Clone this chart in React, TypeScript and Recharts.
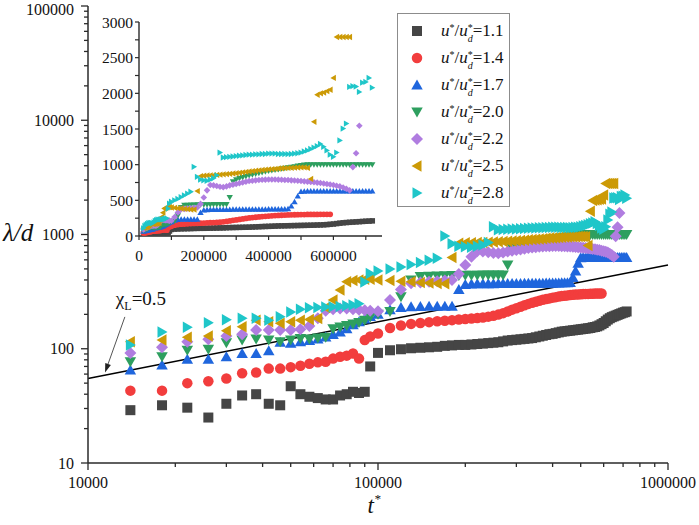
import React from "react";
import { ScatterChart, Scatter, XAxis, YAxis, ReferenceLine, Legend } from "recharts";

// sampling times t* shared by every run
const tValues = [
  14000, 18000, 22000, 26000, 30000, 34000, 38000, 42000, 46000, 50000,
  54000, 58000, 62000, 66000, 70000, 74000, 78000, 82000, 86000, 90000, 94000,
  100000, 110000, 120000, 130000, 140000, 150000, 160000, 170000, 180000, 190000,
  200000, 210000, 220000, 230000, 240000, 250000, 260000, 270000, 280000, 290000,
  300000, 310000, 320000, 330000, 340000, 350000, 360000, 370000, 380000, 390000,
  400000, 410000, 420000, 430000, 440000, 450000, 460000, 470000, 480000, 490000,
  500000, 510000, 520000, 530000, 540000, 550000, 560000, 570000, 580000, 590000,
  600000, 610000, 620000, 630000, 640000, 650000, 660000, 670000, 680000, 690000,
  700000, 710000, 720000,
];

// lambda/d for each u*/u*d run (null = no sample)
const lambda11 = [
  29, 32, 30.5, 25, 33, 39, 40, 33, 32, 47,
  40, 38, 37, 36, 36, 39, 40, 42, 41, 42, 70,
  92, 97, 99, 101, 102, 103, 104, 106, 107, 108,
  108, 109, 110, 111, 112, 113, 114, 116, 118, 119,
  120, 121, 122, 123, 124, 126, 128, 130, 132, 134,
  135, 137, 139, 141, 142, 143, 144, 145, 146, 147,
  148, 149, 150, 151, 152, 154, 155, 157, 160, 164,
  168, 174, 180, 185, 189, 192, 195, 198, 201, 204,
  207, 209, 212,
];
const lambda14 = [
  43, 43, 50, 52, 55, 61, 62, 67, 67, 69,
  71, 74, 76, 77, 82, 85, 87, 91, 82, 119, 128,
  136, 152, 160, 165, 168, 171, 174, 176, 178, 180,
  182, 184, 186, 188, 191, 194, 199, 205, 212, 220,
  226, 233, 240, 247, 253, 258, 263, 268, 272, 276,
  280, 283, 286, 289, 291, 293, 295, 297, 298, 299,
  300, 301, 302, 302, 303, 303, 304, 304, 304, 304,
  null, null, null, null, null, null, null, null, null, null,
  null, null, null,
];
const lambda17 = [
  65, 72, 81, 81, 85, 91, 91, 96, 114, 112,
  115, 118, 122, 127, 133, 140, 150, 162, 172, 182, 192,
  200, 220, 230, 233, 234, 235, 235, 236, 236, 330,
  365, 368, 370, 370, 371, 371, 372, 372, 372, 373,
  373, 373, 374, 374, 374, 375, 375, 375, 376, 376,
  377, 377, 377, 378, 378, 379, 380, 420, 480, 560,
  625, 628, 630, 630, 630, 630, 630, 630, 630, 630,
  630, 630, 630, 630, 630, 630, 630, 630, 630, 630,
  630, 630, 630,
];
const lambda20 = [
  77, 85, 97, 99, 113, 119, 122, 119, 115, 119,
  123, 122, 124, 126, 150, 155, 160, 165, 170, 178, 190,
  200, 212, 285, 400, 430, 432, 434, 436, 437, 438,
  439, 440, 440, 441, 441, 442, 442, 443, 540, 760,
  790, 805, 820, 835, 848, 860, 870, 880, 890, 900,
  910, 918, 926, 934, 942, 950, 958, 965, 972, 980,
  990, 995, 998, 1000, 1000, 1000, 1000, 1000, 1000, 1000,
  1000, 1000, 1000, 1000, 1000, 1000, 1000, 1000, 1000, 1000,
  1000, 1000, 1000,
];
const lambda22 = [
  92, 103, 115, 121, 129, 134, 146, 146, 146, 146,
  148, 158, 185, 215, 222, 225, 225, 222, 220, 217, 215,
  213, 267, 330, 375, 380, 385, 390, 395, 400, 450,
  540, 640, 715, 710, 700, 690, 685, 695, 710, 720,
  730, 740, 750, 760, 770, 775, 780, 785, 788, 790,
  792, 792, 792, 790, 788, 786, 784, 780, 777, 774,
  770, 766, 762, 758, 753, 748, 742, 736, 730, 722,
  714, 705, 695, 680, 662, 640, 966, 1160, 1545, null,
  null, null, null,
];
const lambda25 = [
  115, 119, 126, 129, 144, 156, 178, 172, 167, 172,
  178, 180, 184, 230, 267, 327, 385, 395, 400, 405, 405,
  400, 395, 390, 385, 380, 376, 372, 370, 630, 840,
  845, 848, 850, 853, 856, 860, 864, 868, 872, 876,
  880, 886, 892, 898, 904, 910, 915, 920, 925, 930,
  934, 938, 942, 946, 950, 952, 954, 956, 958, 960,
  962, 962, 955, 800, 1600, 1980, 2000, 2010, 2030, 2050,
  2216, 2790, 2790, 2790, 2790, 2790, null, null, null, null,
  null, null, null,
];
const lambda28 = [
  108, 140, 154, 169, 179, 185, 185, 178, 191, 210,
  222, 228, 230, 232, 233, 234, 238, 242, 248, 384, 455,
  480, 500, 520, 545, 570, 595, 620, 970, 830, 790,
  780, 775, 790, 810, 850, 1170, 1100, 1105, 1110, 1115,
  1120, 1125, 1130, 1135, 1140, 1140, 1145, 1145, 1150, 1150,
  1155, 1155, 1155, 1150, 1150, 1150, 1148, 1150, 1155, 1160,
  1170, 1185, 1200, 1220, 1240, 1260, 1290, 1250, 1200, 1140,
  1110, 1170, 1340, 1506, 1576, 2090, 2100, 2095, 2020, 2150,
  2160, 2216, 2080,
];

const ratios = ["1.1", "1.4", "1.7", "2.0", "2.2", "2.5", "2.8"];
const seriesValues = [lambda11, lambda14, lambda17, lambda20, lambda22, lambda25, lambda28];
const seriesColors = ["#454545", "#f23d3d", "#1f66dd", "#2e9f5f", "#b07de0", "#cc9a06", "#1fc6c9"];
const seriesShapes = ["square", "circle", "up", "down", "diamond", "left", "right"];

// chi_L = 0.5 guide line and its pointer
const fitT = [10000, 1000000];
const fitLambda = [55, 540];
const arrowT = [13400, 11450];
const arrowLambda = [190, 62];

// axis ticks
const mainYDecades = [10, 100, 1000, 10000, 100000];
const mainXDecades = [10000, 100000, 1000000];
const minorSteps = [1, 2, 3, 4, 5, 6, 7, 8, 9];
const insetXTicks = [0, 100000, 200000, 300000, 400000, 500000, 600000, 700000];
const insetXLabels = [0, 200000, 400000, 600000];
const insetYTicks = [0, 250, 500, 750, 1000, 1250, 1500, 1750, 2000, 2250, 2500, 2750, 3000];
const insetYLabels = [0, 500, 1000, 1500, 2000, 2500, 3000];

const FONT = "'Liberation Serif', 'DejaVu Serif', serif";
const AXIS = "#2a2a2a";

const withMinors = (decades: number[]) =>
  decades.flatMap((d, i) => (i === decades.length - 1 ? [d] : minorSteps.map((m) => d * m)));
const mainYTicks = withMinors(mainYDecades);
const mainXTicks = withMinors(mainXDecades);

const points = (vals: (number | null)[]) =>
  tValues.map((t, i) => ({ t, v: vals[i] })).filter((p) => p.v != null);
const seriesData = seriesValues.map(points);

const isDecade = (v: number) => Math.abs(Math.log10(v) - Math.round(Math.log10(v))) < 1e-6;

function Marker({ kind, cx, cy, size, color }: { kind: string; cx: number; cy: number; size: number; color: string }) {
  const h = size / 2;
  if (cx == null || cy == null) return null;
  switch (kind) {
    case "square":
      return <rect x={cx - h} y={cy - h} width={size} height={size} fill={color} />;
    case "circle":
      return <circle cx={cx} cy={cy} r={h * 1.05} fill={color} />;
    case "up":
      return <polygon points={`${cx},${cy - h * 1.1} ${cx + h * 1.15},${cy + h * 0.9} ${cx - h * 1.15},${cy + h * 0.9}`} fill={color} />;
    case "down":
      return <polygon points={`${cx},${cy + h * 1.1} ${cx + h * 1.15},${cy - h * 0.9} ${cx - h * 1.15},${cy - h * 0.9}`} fill={color} />;
    case "diamond":
      return <polygon points={`${cx},${cy - h * 1.2} ${cx + h * 1.2},${cy} ${cx},${cy + h * 1.2} ${cx - h * 1.2},${cy}`} fill={color} />;
    case "left":
      return <polygon points={`${cx - h * 1.1},${cy} ${cx + h * 0.9},${cy - h * 1.15} ${cx + h * 0.9},${cy + h * 1.15}`} fill={color} />;
    default:
      return <polygon points={`${cx + h * 1.1},${cy} ${cx - h * 0.9},${cy - h * 1.15} ${cx - h * 0.9},${cy + h * 1.15}`} fill={color} />;
  }
}

const textStyle = (size: number) => ({ fontSize: size, fontFamily: FONT, fill: "#111" });

// ticks: x/y arrive at the axis line because tickSize and tickMargin are 0
function LogTick(props: any) {
  const { x, y, payload, side } = props;
  const v = payload.value;
  const major = isDecade(v);
  const len = major ? 7 : 4;
  if (side === "left")
    return (
      <g>
        <line x1={x} x2={x - len} y1={y} y2={y} stroke={AXIS} strokeWidth={1.3} />
        {major && (
          <text x={x - 14} y={Math.max(y + 5.5, 14.5)} textAnchor="end" style={textStyle(16)}>
            {v}
          </text>
        )}
      </g>
    );
  if (side === "bottom")
    return (
      <g>
        <line x1={x} x2={x} y1={y} y2={y + len} stroke={AXIS} strokeWidth={1.3} />
        {major && <text x={x} y={y + 25} textAnchor="middle" style={textStyle(16)}>{v}</text>}
      </g>
    );
  if (side === "right") return <line x1={x} x2={x - len} y1={y} y2={y} stroke={AXIS} strokeWidth={1.3} />;
  return <line x1={x} x2={x} y1={y} y2={y + len} stroke={AXIS} strokeWidth={1.3} />;
}

function InsetTick(props: any) {
  const { x, y, payload, side } = props;
  const v = payload.value;
  if (side === "left")
    return (
      <g>
        <line x1={x} x2={x - 4} y1={y} y2={y} stroke={AXIS} strokeWidth={1.2} />
        {insetYLabels.includes(v) && <text x={x - 6} y={y + 5.5} textAnchor="end" style={textStyle(15.5)}>{v}</text>}
      </g>
    );
  if (side === "bottom")
    return (
      <g>
        <line x1={x} x2={x} y1={y} y2={y + 4} stroke={AXIS} strokeWidth={1.2} />
        {insetXLabels.includes(v) && <text x={x} y={y + 25} textAnchor="middle" style={textStyle(15.5)}>{v}</text>}
      </g>
    );
  if (side === "right") return <line x1={x} x2={x - 4} y1={y} y2={y} stroke={AXIS} strokeWidth={1.2} />;
  return <line x1={x} x2={x} y1={y} y2={y + 4} stroke={AXIS} strokeWidth={1.2} />;
}

function ArrowNote(props: any) {
  const { x1, y1, x2, y2 } = props;
  const dx = x2 - x1;
  const dy = y2 - y1;
  const len = Math.hypot(dx, dy) || 1;
  const ux = dx / len;
  const uy = dy / len;
  const hx = x2 - ux * 9;
  const hy = y2 - uy * 9;
  const px = -uy * 3;
  const py = ux * 3;
  return (
    <g>
      <line x1={x1} y1={y1} x2={hx} y2={hy} stroke="#555" strokeWidth={1} />
      <polygon points={`${x2},${y2} ${hx + px},${hy + py} ${hx - px},${hy - py}`} fill="#222" />
      <text x={x1 - 9} y={y1 - 12} style={textStyle(19)}>
        χ<tspan fontSize={12} dy={5}>L</tspan>
        <tspan dy={-5}>=0.5</tspan>
      </text>
    </g>
  );
}

const renderLegend = () => (
  <div
    style={{
      width: 113,
      height: 194,
      border: "1px solid #8c8c8c",
      background: "#fff",
      boxSizing: "border-box",
      paddingTop: 3,
      fontFamily: FONT,
      color: "#111",
    }}
  >
    {ratios.map((r, i) => (
      <div key={r} style={{ height: 27.1, display: "flex", alignItems: "center" }}>
        <svg width={14} height={14} style={{ marginLeft: 12, marginRight: 17, flex: "none" }}>
          <Marker kind={seriesShapes[i]} cx={7} cy={7} size={10} color={seriesColors[i]} />
        </svg>
        <span style={{ fontSize: 17, whiteSpace: "nowrap", lineHeight: "20px" }}>
          <i>u</i>
          <span style={{ fontSize: 10, verticalAlign: "5px" }}>*</span>/<i>u</i>
          <span
            style={{
              display: "inline-flex",
              flexDirection: "column",
              fontSize: 10,
              lineHeight: "11px",
              verticalAlign: "5px",
            }}
          >
            <span>*</span>
            <i>d</i>
          </span>
          ={r}
        </span>
      </div>
    ))}
  </div>
);

export default function App() {
  return (
    <div
      style={{
        position: "absolute",
        left: 0,
        top: 0,
        width: 699,
        height: 525,
        background: "#fff",
        fontFamily: FONT,
      }}
    >
      <ScatterChart width={699} height={525} margin={{ top: 6, right: 31, bottom: 0, left: 0 }}>
        <XAxis
          type="number"
          dataKey="t"
          scale="log"
          domain={[10000, 1000000]}
          allowDataOverflow
          ticks={mainXTicks}
          interval={0}
          tickSize={0}
          tickMargin={0}
          tickLine={false}
          height={62}
          axisLine={{ stroke: AXIS, strokeWidth: 1.5 }}
          tick={(p: any) => <LogTick {...p} side="bottom" />}
          label={(p: any) => {
            const vb = p.viewBox;
            return (
              <text
                x={vb.x + vb.width / 2 - 4}
                y={vb.y + 50}
                textAnchor="middle"
                style={{ ...textStyle(23), fontStyle: "italic" }}
              >
                t<tspan fontSize={13} dy={-10}>*</tspan>
              </text>
            );
          }}
        />
        <XAxis
          xAxisId="top"
          orientation="top"
          type="number"
          scale="log"
          domain={[10000, 1000000]}
          allowDataOverflow
          ticks={mainXTicks}
          interval={0}
          tickSize={0}
          tickMargin={0}
          tickLine={false}
          height={0}
          axisLine={{ stroke: AXIS, strokeWidth: 1.5 }}
          tick={(p: any) => <LogTick {...p} side="top" />}
        />
        <YAxis
          type="number"
          dataKey="v"
          scale="log"
          domain={[10, 100000]}
          allowDataOverflow
          ticks={mainYTicks}
          interval={0}
          tickSize={0}
          tickMargin={0}
          tickLine={false}
          width={88}
          axisLine={{ stroke: AXIS, strokeWidth: 1.5 }}
          tick={(p: any) => <LogTick {...p} side="left" />}
          label={(p: any) => {
            const vb = p.viewBox;
            return (
              <text
                x={vb.x + 3}
                y={vb.y + vb.height / 2 + 6}
                style={{ ...textStyle(25), fontStyle: "italic" }}
              >
                λ/d
              </text>
            );
          }}
        />
        <YAxis
          yAxisId="right"
          orientation="right"
          type="number"
          scale="log"
          domain={[10, 100000]}
          allowDataOverflow
          ticks={mainYTicks}
          interval={0}
          tickSize={0}
          tickMargin={0}
          tickLine={false}
          width={0}
          axisLine={{ stroke: AXIS, strokeWidth: 1.5 }}
          tick={(p: any) => <LogTick {...p} side="right" />}
        />
        <ReferenceLine
          segment={[
            { x: fitT[0], y: fitLambda[0] },
            { x: fitT[1], y: fitLambda[1] },
          ]}
          stroke="#000"
          strokeWidth={1.5}
          ifOverflow="visible"
        />
        <ReferenceLine
          segment={[
            { x: arrowT[0], y: arrowLambda[0] },
            { x: arrowT[1], y: arrowLambda[1] },
          ]}
          ifOverflow="visible"
          shape={(p: any) => <ArrowNote {...p} />}
        />
        {seriesData.map((d, i) => (
          <Scatter
            key={ratios[i]}
            name={ratios[i]}
            data={d}
            fill={seriesColors[i]}
            isAnimationActive={false}
            shape={(p: any) => <Marker kind={seriesShapes[i]} cx={p.cx} cy={p.cy} size={10} color={seriesColors[i]} />}
          />
        ))}
        <Legend
          layout="vertical"
          align="center"
          verticalAlign="middle"
          content={renderLegend}
          wrapperStyle={{ left: 397, top: 13, width: 113, height: 194 }}
        />
      </ScatterChart>

      <div style={{ position: "absolute", left: 80, top: 0 }}>
        <ScatterChart width={310} height={270} margin={{ top: 22, right: 8, bottom: 4, left: 0 }}>
          <XAxis
            type="number"
            dataKey="t"
            domain={[0, 750000]}
            allowDataOverflow
            ticks={insetXTicks}
            interval={0}
            tickSize={0}
            tickMargin={0}
            tickLine={false}
            height={30}
            axisLine={{ stroke: AXIS, strokeWidth: 1.4 }}
            tick={(p: any) => <InsetTick {...p} side="bottom" />}
          />
          <XAxis
            xAxisId="top"
            orientation="top"
            type="number"
            domain={[0, 750000]}
            allowDataOverflow
            ticks={insetXTicks}
            interval={0}
            tickSize={0}
            tickMargin={0}
            tickLine={false}
            height={0}
            axisLine={{ stroke: AXIS, strokeWidth: 1.4 }}
            tick={(p: any) => <InsetTick {...p} side="top" />}
          />
          <YAxis
            type="number"
            dataKey="v"
            domain={[0, 3000]}
            allowDataOverflow
            ticks={insetYTicks}
            interval={0}
            tickSize={0}
            tickMargin={0}
            tickLine={false}
            width={59}
            axisLine={{ stroke: AXIS, strokeWidth: 1.4 }}
            tick={(p: any) => <InsetTick {...p} side="left" />}
          />
          <YAxis
            yAxisId="right"
            orientation="right"
            type="number"
            domain={[0, 3000]}
            allowDataOverflow
            ticks={insetYTicks}
            interval={0}
            tickSize={0}
            tickMargin={0}
            tickLine={false}
            width={0}
            axisLine={{ stroke: AXIS, strokeWidth: 1.4 }}
            tick={(p: any) => <InsetTick {...p} side="right" />}
          />
          {seriesData.map((d, i) => (
            <Scatter
              key={ratios[i]}
              name={ratios[i]}
              data={d}
              fill={seriesColors[i]}
              isAnimationActive={false}
              shape={(p: any) => <Marker kind={seriesShapes[i]} cx={p.cx} cy={p.cy} size={5.5} color={seriesColors[i]} />}
            />
          ))}
        </ScatterChart>
      </div>
    </div>
  );
}
